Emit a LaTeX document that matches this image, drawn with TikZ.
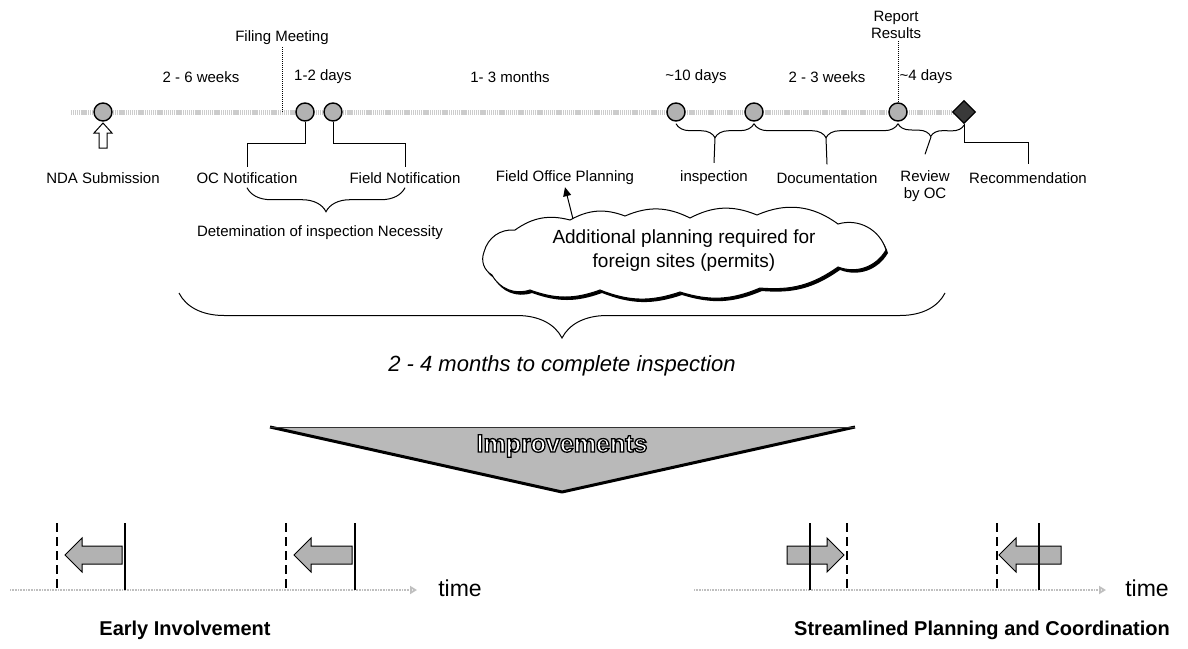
\documentclass[tikz,border=0pt]{standalone}
\usepackage{fontspec}
\setmainfont{Liberation Sans}
\usetikzlibrary{shapes.geometric,decorations.pathreplacing,arrows.meta,calc}
\newcommand{\leftblockarrow}[3]{\filldraw[barrow] (#1,#3-9) -- (#2+17,#3-9) -- (#2+17,#3-17) -- (#2,#3) -- (#2+17,#3+17) -- (#2+17,#3+9) -- (#1,#3+9) -- cycle;}
\newcommand{\rightblockarrow}[3]{\filldraw[barrow] (#1,#3-9) -- (#2-17,#3-9) -- (#2-17,#3-17) -- (#2,#3) -- (#2-17,#3+17) -- (#2-17,#3+9) -- (#1,#3+9) -- cycle;}
\newcommand{\cloudoutline}{(484,252) to[bend left=40] (515,230) to[bend left=25] (570,220) to[bend left=25] (625,216) to[bend left=25] (690,218) to[bend left=25] (757,215) to[bend left=30] (838,224) to[bend left=45] (886,250) to[bend left=40] (838,267) to[bend left=20] (760,288) to[bend left=20] (680,292) to[bend left=20] (600,290) to[bend left=20] (530,290) to[bend left=40] (492,275) to[bend left=40] (484,252) -- cycle}
\newcommand{\outlinedtext}[1]{{\color{white}\special{pdf:literal direct 0 0 0 RG 1.3 w 2 Tr}#1\special{pdf:literal direct 0 Tr}}}
\begin{document}
\begin{tikzpicture}[x=1pt,y=-1pt,
  lbl/.style={font=\fontsize{15}{17}\selectfont, inner sep=2pt},
  evt/.style={circle, draw=black, line width=1.4pt, fill=gray!60, minimum size=18pt, inner sep=0pt},
  milestone/.style={diamond, draw=black, line width=1.2pt, fill=gray!45!black, minimum size=23pt, inner sep=0pt},
  tline/.style={line width=5pt, gray!40, dash pattern=on 1.2pt off 0.7pt},
  btline/.style={line width=2pt, gray!50, dash pattern=on 1pt off 0.6pt},
  brc/.style={decorate, decoration={brace, amplitude=#1}, line width=1pt},
  conn/.style={line width=1pt},
  cue/.style={densely dotted, line width=1pt},
  barrow/.style={fill=gray!60, draw=black, line width=1pt, line join=miter},
  dsh/.style={line width=2.6pt, dash pattern=on 9pt off 5pt},
  sol/.style={line width=2.6pt}
]
\path[use as bounding box, fill=white] (0,0) rectangle (1188,648);

% ---------- main timeline ----------
\coordinate (tstart) at (71,112);
\coordinate (tend) at (964,112);
\draw[tline] (tstart) -- (tend);
\node[evt] (nda) at (103,112) {};
\node[evt] (oc) at (305,112) {};
\node[evt] (fn) at (333,112) {};
\node[evt] (i1) at (676,112) {};
\node[evt] (i2) at (754,112) {};
\node[evt] (rr) at (898,112) {};
\node[milestone] (dia) at (964,112) {};

% NDA up arrow (outlined block arrow)
\draw[line width=1pt, fill=white, line join=miter] (103,123) -- (112,133) -- (107,133) -- (107,148) -- (99,148) -- (99,133) -- (94,133) -- cycle;

% ---------- top texts ----------
\node[lbl] (filing) at (282,38) {Filing Meeting};
\coordinate (filingpt) at (282,112);
\draw[cue] (filing.south) -- (filingpt);
\node[lbl, align=center] (rep) at (896,25) {Report\\Results};
\draw[cue] (rr.north |- rep.south) -- (rr.north);

\node[lbl] (d1) at (201,77) {2 - 6 weeks};
\node[lbl] (d2) at (323,77) {1-2 days};
\node[lbl] (d3) at (510,77) {1- 3 months};
\node[lbl] (d4) at (696,77) {\textasciitilde10 days};
\node[lbl] (d5) at (827,77) {2 - 3 weeks};
\node[lbl] (d6) at (926,77) {\textasciitilde4 days};

% ---------- bottom labels ----------
\node[lbl] (ndal) at (103,178) {NDA Submission};
\node[lbl] (ocn) at (247,178) {OC Notification};
\node[lbl] (fnl) at (405,178) {Field Notification};
\node[lbl] (fop) at (565,178) {Field Office Planning};
\node[lbl] (insp) at (714,178) {inspection};
\node[lbl] (doc) at (827,178) {Documentation};
\node[lbl, align=center] (rev) at (925,186) {Review\\by OC};
\node[lbl] (rec) at (1028,178) {Recommendation};

\draw[conn] (oc.south) -- ++(0,22) -| ([yshift=3pt]ocn.north);
\draw[conn] (fn.south) -- ++(0,22) -| ([yshift=3pt]fnl.north);
\draw[conn] (dia.south) -- ++(0,18) -| ([yshift=6pt]rec.north);

\draw[brc=14pt] ([yshift=-2pt]i2.south) -- ([yshift=-2pt]i1.south);
\draw[conn] ($(i1.south)!0.5!(i2.south)+(0,16)$) -- ([yshift=6pt]insp.north);
\draw[brc=14pt] ([yshift=-2pt]rr.south) -- ([yshift=-2pt]i2.south);
\draw[conn] ($(i2.south)!0.5!(rr.south)+(0,16)$) -- ([yshift=6pt]doc.north);
\draw[brc=12pt] ([yshift=-1pt]dia.south) -- ([yshift=-2pt]rr.south);
\draw[conn] ($(rr.south)!0.5!(dia.south)+(0,14)$) -- ([yshift=14pt]rev.north);

\draw[brc=24pt] ([yshift=-2pt]fnl.south) -- ([yshift=-2pt]ocn.south);
\node[lbl] (det) at (320,233) {Detemination of inspection Necessity};

% ---------- cloud ----------
\fill[black, shift={(2,3)}] \cloudoutline;
\filldraw[fill=white, draw=black, line width=1pt] \cloudoutline;
\node[align=center, font=\fontsize{19}{24}\selectfont] (cloud) at (684,251)
      {Additional planning required for\\foreign sites (permits)};
\coordinate (cloudtip) at (573,219);
\draw[conn, -{Triangle[length=9pt,width=8pt]}] (cloudtip) -- (fop.south);

% ---------- big brace ----------
\coordinate (bbL) at (179,293);
\coordinate (bbR) at (945,293);
\draw[brc=45pt] (bbR) -- (bbL);
\node[font=\fontsize{22}{26}\selectfont\itshape] (tot) at (562,366) {2 - 4 months to complete inspection};

% ---------- improvements triangle ----------
\coordinate (triA) at (270,427);
\coordinate (triB) at (855,427);
\coordinate (triC) at (562,492);
\fill[gray!55] (triA) -- (triB) -- (triC) -- cycle;
\draw[line width=3pt, line join=round] (triA) -- (triC) -- (triB);
\draw[line width=0.8pt, gray!40!black] (triA) -- (triB);
\node[font=\fontsize{25}{30}\selectfont\bfseries] (impr) at (562,446) {\outlinedtext{Improvements}};

% ---------- early involvement ----------
\coordinate (blS) at (10,590);
\coordinate (blE) at (417,590);
\draw[btline, -{Triangle[open, length=7pt, width=8pt]}] (blS) -- (blE);
\node[font=\fontsize{23}{27}\selectfont] (time1) at (460,588) {time};
\leftblockarrow{122}{65}{555}
\leftblockarrow{352}{294}{555}
\draw[dsh] (57,523) -- (57,590);
\draw[sol] (125,523) -- (125,590);
\draw[dsh] (286,523) -- (286,590);
\draw[sol] (355,523) -- (355,590);
\node[font=\fontsize{20}{24}\selectfont\bfseries] (t1) at (185,630) {Early Involvement};

% ---------- streamlined planning ----------
\coordinate (brS) at (694,590);
\coordinate (brE) at (1106,590);
\draw[btline, -{Triangle[open, length=7pt, width=8pt]}] (brS) -- (brE);
\node[font=\fontsize{23}{27}\selectfont] (time2) at (1147,588) {time};
\rightblockarrow{787}{844}{555}
\leftblockarrow{1061}{999}{555}
\draw[sol] (810,523) -- (810,590);
\draw[dsh] (847,523) -- (847,590);
\draw[dsh] (997,523) -- (997,590);
\draw[sol] (1039,523) -- (1039,590);
\node[font=\fontsize{20}{24}\selectfont\bfseries] (t2) at (982,630) {Streamlined Planning and Coordination};
\end{tikzpicture}
\end{document}
